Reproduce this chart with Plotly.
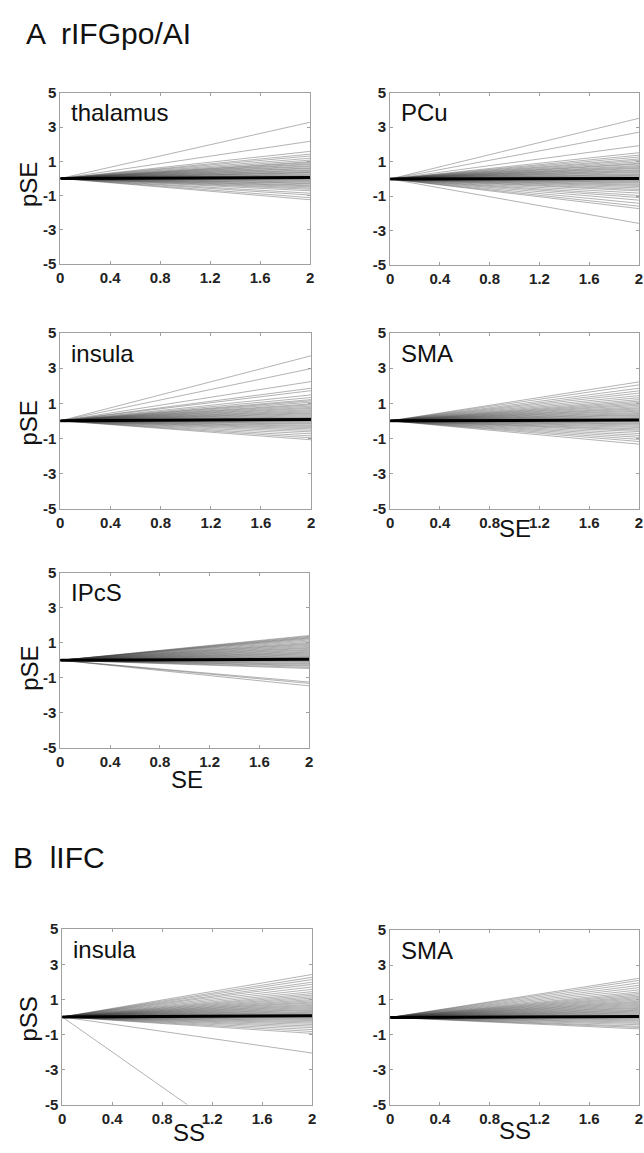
import plotly.graph_objects as go

# ---------------- data ----------------
x_span = [0, 2]
x_ticks = [0, 0.4, 0.8, 1.2, 1.6, 2]
x_ticktext = ["0", "0.4", "0.8", "1.2", "1.6", "2"]
y_ticks = [-5, -3, -1, 1, 3, 5]
y_ticktext = ["-5", "-3", "-1", "1", "3", "5"]

panel_names = ["thalamus", "PCu", "insula", "SMA", "IPcS", "insula", "SMA"]

# per-subject slope lines: value at x = 2 (all start at 0,0)
thalamus_end = [3.28, 2.17, 1.58, 1.42, 1.31, 1.18, 1.07, 0.98, 0.93, 0.86, 0.81, 0.74, 0.69,
                0.62, 0.58, 0.51, 0.47, 0.41, 0.36, 0.33, 0.27, 0.22, 0.18, 0.12, 0.09, 0.03,
                -0.02, -0.07, -0.11, -0.16, -0.21, -0.27, -0.31, -0.38, -0.43, -0.49, -0.56,
                -0.63, -0.72, -0.86, -0.97, -1.12, -1.24]
pcu_end = [3.52, 2.71, 1.93, 1.52, 1.38, 1.27, 1.16, 1.08, 0.99, 0.91, 0.86, 0.78, 0.72, 0.66,
           0.61, 0.54, 0.49, 0.43, 0.38, 0.31, 0.26, 0.21, 0.16, 0.11, 0.07, 0.02, -0.04, -0.09,
           -0.14, -0.19, -0.24, -0.31, -0.37, -0.44, -0.52, -0.61, -0.69, -0.82, -0.96, -1.08,
           -1.23, -1.41, -1.58, -1.72, -2.58]
insulaA_end = [3.71, 2.98, 2.24, 1.86, 1.72, 1.48, 1.33, 1.21, 1.14, 1.06, 0.97, 0.91, 0.84,
               0.77, 0.71, 0.64, 0.58, 0.52, 0.46, 0.41, 0.35, 0.29, 0.23, 0.19, 0.14, 0.08,
               0.03, -0.03, -0.08, -0.14, -0.19, -0.26, -0.32, -0.39, -0.46, -0.54, -0.63,
               -0.74, -0.86, -0.97, -1.08]
smaA_end = [2.22, 2.05, 1.86, 1.71, 1.58, 1.44, 1.32, 1.21, 1.12, 1.04, 0.96, 0.89, 0.81, 0.74,
            0.68, 0.61, 0.55, 0.48, 0.42, 0.36, 0.31, 0.25, 0.19, 0.14, 0.09, 0.04, -0.02,
            -0.07, -0.13, -0.18, -0.24, -0.31, -0.38, -0.46, -0.53, -0.61, -0.72, -0.83,
            -0.94, -1.06, -1.18, -1.33]
ipcs_end = [1.41, 1.36, 1.31, 1.27, 1.22, 1.16, 1.09, 1.02, 0.96, 0.91, 0.85, 0.79, 0.73, 0.68,
            0.62, 0.57, 0.51, 0.46, 0.41, 0.36, 0.31, 0.26, 0.21, 0.17, 0.12, 0.08, 0.03, -0.02,
            -0.07, -0.12, -0.18, -0.23, -0.29, -0.34, -0.41, -0.47, -1.24, -1.32, -1.46]
insulaB_end = [2.42, 2.26, 2.13, 1.98, 1.86, 1.71, 1.57, 1.44, 1.33, 1.24, 1.15, 1.07, 0.99,
               0.92, 0.85, 0.79, 0.72, 0.66, 0.60, 0.54, 0.48, 0.42, 0.37, 0.31, 0.26, 0.21,
               0.16, 0.11, 0.06, 0.01, -0.04, -0.09, -0.15, -0.21, -0.28, -0.35, -0.43, -0.52,
               -0.61, -0.72, -0.83, -0.94, -2.06, -10.0]
smaB_end = [2.24, 2.12, 1.98, 1.84, 1.71, 1.58, 1.46, 1.37, 1.29, 1.21, 1.14, 1.07, 1.00, 0.93,
            0.87, 0.81, 0.75, 0.69, 0.63, 0.57, 0.52, 0.46, 0.41, 0.36, 0.31, 0.26, 0.21, 0.16,
            0.11, 0.07, 0.02, -0.03, -0.08, -0.14, -0.20, -0.27, -0.34, -0.42, -0.51, -0.58,
            -0.66]
panel_ends = [thalamus_end, pcu_end, insulaA_end, smaA_end, ipcs_end, insulaB_end, smaB_end]
# group mean line: value at x = 2
panel_mean = [0.06, 0.03, 0.08, 0.05, 0.06, 0.06, 0.05]

# ---------------- layout (pixel boxes: left, right, top, bottom) ----------------
W, H = 644, 1153
boxes = [(57, 310, 85, 259), (391, 643, 85, 260),
         (57, 311, 329, 507), (391, 643, 329, 507),
         (57, 309, 572, 750),
         (59, 312, 934, 1112), (391, 643, 935, 1112)]

FONT = "Liberation Sans, Arial, sans-serif"
fig = go.Figure()
layout = dict(width=W, height=H, margin=dict(l=0, r=0, t=0, b=0),
              paper_bgcolor="white", plot_bgcolor="white", showlegend=False,
              font=dict(family=FONT, color="#111"))
annotations = []

for i, (ends, mean, box, name) in enumerate(zip(panel_ends, panel_mean, boxes, panel_names)):
    n = i + 1
    sfx = "" if n == 1 else str(n)
    for v in ends:
        fig.add_trace(go.Scatter(x=x_span, y=[0, v], mode="lines",
                                 line=dict(color="rgba(55,55,55,0.38)", width=1),
                                 xaxis="x" + sfx, yaxis="y" + sfx, hoverinfo="skip"))
    fig.add_trace(go.Scatter(x=x_span, y=[0, mean], mode="lines",
                             line=dict(color="black", width=3),
                             xaxis="x" + sfx, yaxis="y" + sfx, hoverinfo="skip"))
    l, r, t, b = box
    common = dict(showline=True, linecolor="#a0a0a0", linewidth=1, mirror="ticks",
                  ticks="inside", ticklen=3, tickcolor="#a0a0a0", showgrid=False,
                  zeroline=False,
                  tickfont=dict(size=15, color="#222", family=FONT, weight="bold"))
    layout["xaxis" + sfx] = dict(domain=[l / W, r / W], range=[0, 2], tickvals=x_ticks,
                                 ticktext=x_ticktext, anchor="y" + sfx, **common)
    layout["yaxis" + sfx] = dict(domain=[1 - b / H, 1 - t / H], range=[-5, 5], tickvals=y_ticks,
                                 ticktext=y_ticktext, anchor="x" + sfx, **common)
    annotations.append(dict(text=name, xref="x" + sfx + " domain", yref="y" + sfx + " domain",
                            x=0.035, y=0.975, xanchor="left", yanchor="top", showarrow=False,
                            font=dict(size=24, color="#111", family=FONT)))

def px(xp, yp):
    return xp / W, 1 - yp / H

# panel titles
for txt, (xp, yp) in [("A  rIFGpo/AI", (20, 25)), ("B  lIFC", (7, 861))]:
    ax_, ay_ = px(xp, yp)
    annotations.append(dict(text=txt, xref="paper", yref="paper", x=ax_, y=ay_,
                            xanchor="left", yanchor="middle", showarrow=False,
                            font=dict(size=30, color="#111", family=FONT)))

# y-axis titles
for txt, (xp, yp) in [("pSE", (25, 178)), ("pSE", (25, 420)), ("pSE", (25, 669)), ("pSS", (25, 1025))]:
    ax_, ay_ = px(xp, yp)
    annotations.append(dict(text=txt, xref="paper", yref="paper", x=ax_, y=ay_, textangle=-90,
                            xanchor="center", yanchor="middle", showarrow=False,
                            font=dict(size=24, color="#111", family=FONT)))

# x-axis titles
for txt, (xp, yp) in [("SE", (517, 527)), ("SE", (185, 782)), ("SS", (187, 1140)), ("SS", (517, 1138))]:
    ax_, ay_ = px(xp, yp)
    annotations.append(dict(text=txt, xref="paper", yref="paper", x=ax_, y=ay_,
                            xanchor="center", yanchor="middle", showarrow=False,
                            font=dict(size=24, color="#111", family=FONT)))

layout["annotations"] = annotations
fig.update_layout(**layout)
fig.write_html("out.html", config={"displayModeBar": False},
               post_script="document.body.style.margin='0';document.body.style.overflow='hidden';")
